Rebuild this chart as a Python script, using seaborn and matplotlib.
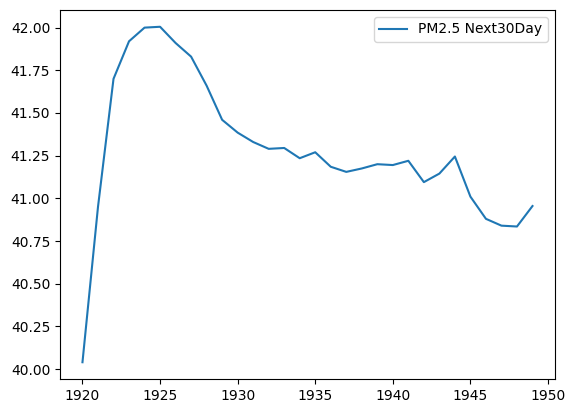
import matplotlib
matplotlib.use("Agg")
import matplotlib.pyplot as plt
import seaborn as sns
import pandas as pd

years = list(range(1920, 1950))
pm25_next30 = [40.04, 40.95, 41.70, 41.92, 42.00, 42.005, 41.91, 41.83, 41.66, 41.46,
               41.385, 41.33, 41.29, 41.295, 41.235, 41.27, 41.185, 41.155, 41.175, 41.20,
               41.195, 41.22, 41.095, 41.145, 41.245, 41.01, 40.88, 40.84, 40.835, 40.955]

df = pd.DataFrame({"year": years, "PM2.5 Next30Day": pm25_next30})

fig, ax = plt.subplots(figsize=(5.75, 4.13), dpi=100)
fig.subplots_adjust(left=0.1043, right=0.9652, top=0.9758, bottom=0.0823)
sns.lineplot(data=df, x="year", y="PM2.5 Next30Day", ax=ax, label="PM2.5 Next30Day")
ax.set_xlabel("")
ax.set_ylabel("")
ax.set_xticks([1920, 1925, 1930, 1935, 1940, 1945, 1950])
ax.set_yticks([40.00, 40.25, 40.50, 40.75, 41.00, 41.25, 41.50, 41.75, 42.00])
ax.set_yticklabels([f"{v:.2f}" for v in [40.00, 40.25, 40.50, 40.75, 41.00, 41.25, 41.50, 41.75, 42.00]])
ax.legend(loc="upper right")
fig.savefig("out.png", dpi=100)
